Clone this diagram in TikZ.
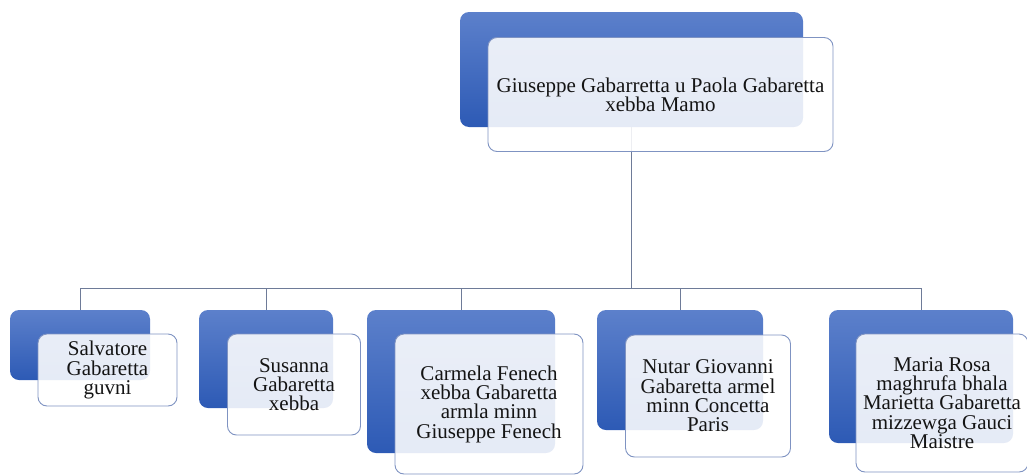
\documentclass[tikz,border=0pt]{standalone}
\usepackage{fontspec}
\setmainfont{Liberation Serif}
\usetikzlibrary{backgrounds}
\definecolor{bluetop}{HTML}{5C80CB}
\definecolor{bluebot}{HTML}{2D5AB5}
\definecolor{edgec}{HTML}{7F93C2}
\definecolor{linec}{HTML}{6E7B98}
\definecolor{textc}{HTML}{141414}
\begin{document}
\begin{tikzpicture}[x=1pt,y=-1pt,
  backbox/.style={rectangle, rounded corners=9pt, top color=bluetop, bottom color=bluebot, draw=none, inner sep=0pt},
  frontbox/.style={rectangle, rounded corners=9pt, draw=edgec, line width=0.9pt, fill=white, fill opacity=0.88, text opacity=1, text=textc, align=center, inner sep=0pt, font=\fontsize{21}{19.3}\selectfont},
  conn/.style={draw=linec, line width=1pt}]
\useasboundingbox (0,0) rectangle (1027,474);
\clip (0,0) rectangle (1027,474);
% top
\node[backbox, minimum width=343pt, minimum height=115pt] (b0) at (631.5,69.5) {};
\node[frontbox, minimum width=345pt, minimum height=114pt] (f0) at (660.5,94.5) {Giuseppe Gabarretta u Paola Gabaretta\\xebba Mamo};
% children back boxes
\node[backbox, minimum width=140pt, minimum height=70pt] (b1) at (80,345) {};
\node[backbox, minimum width=134pt, minimum height=98pt] (b2) at (266,359) {};
\node[backbox, minimum width=188pt, minimum height=143pt] (b3) at (461,381.5) {};
\node[backbox, minimum width=166pt, minimum height=120pt] (b4) at (680,370) {};
\node[backbox, minimum width=184pt, minimum height=133pt] (b5) at (921,376.5) {};
% children front boxes
\node[frontbox, minimum width=139pt, minimum height=72pt] (f1) at (107.5,370) {Salvatore\\Gabaretta\\guvni};
\node[frontbox, minimum width=133pt, minimum height=101pt] (f2) at (294,384.5) {Susanna\\Gabaretta\\xebba};
\node[frontbox, minimum width=188pt, minimum height=140pt] (f3) at (489,404) {Carmela Fenech\\xebba Gabaretta\\armla minn\\Giuseppe Fenech};
\node[frontbox, minimum width=165pt, minimum height=122pt] (f4) at (708,396) {Nutar Giovanni\\Gabaretta armel\\minn Concetta\\Paris};
\node[frontbox, minimum width=172pt, minimum height=138pt] (f5) at (942,403) {Maria Rosa\\maghrufa bhala\\Marietta Gabaretta\\mizzewga Gauci\\Maistre};
\coordinate (bus) at (632,288);
\begin{scope}[on background layer]
\foreach \c in {b1,b2,b3,b4,b5}
  \draw[conn] (b0.south) -- (b0.south |- bus) -| (\c.north);
\end{scope}
\end{tikzpicture}
\end{document}
